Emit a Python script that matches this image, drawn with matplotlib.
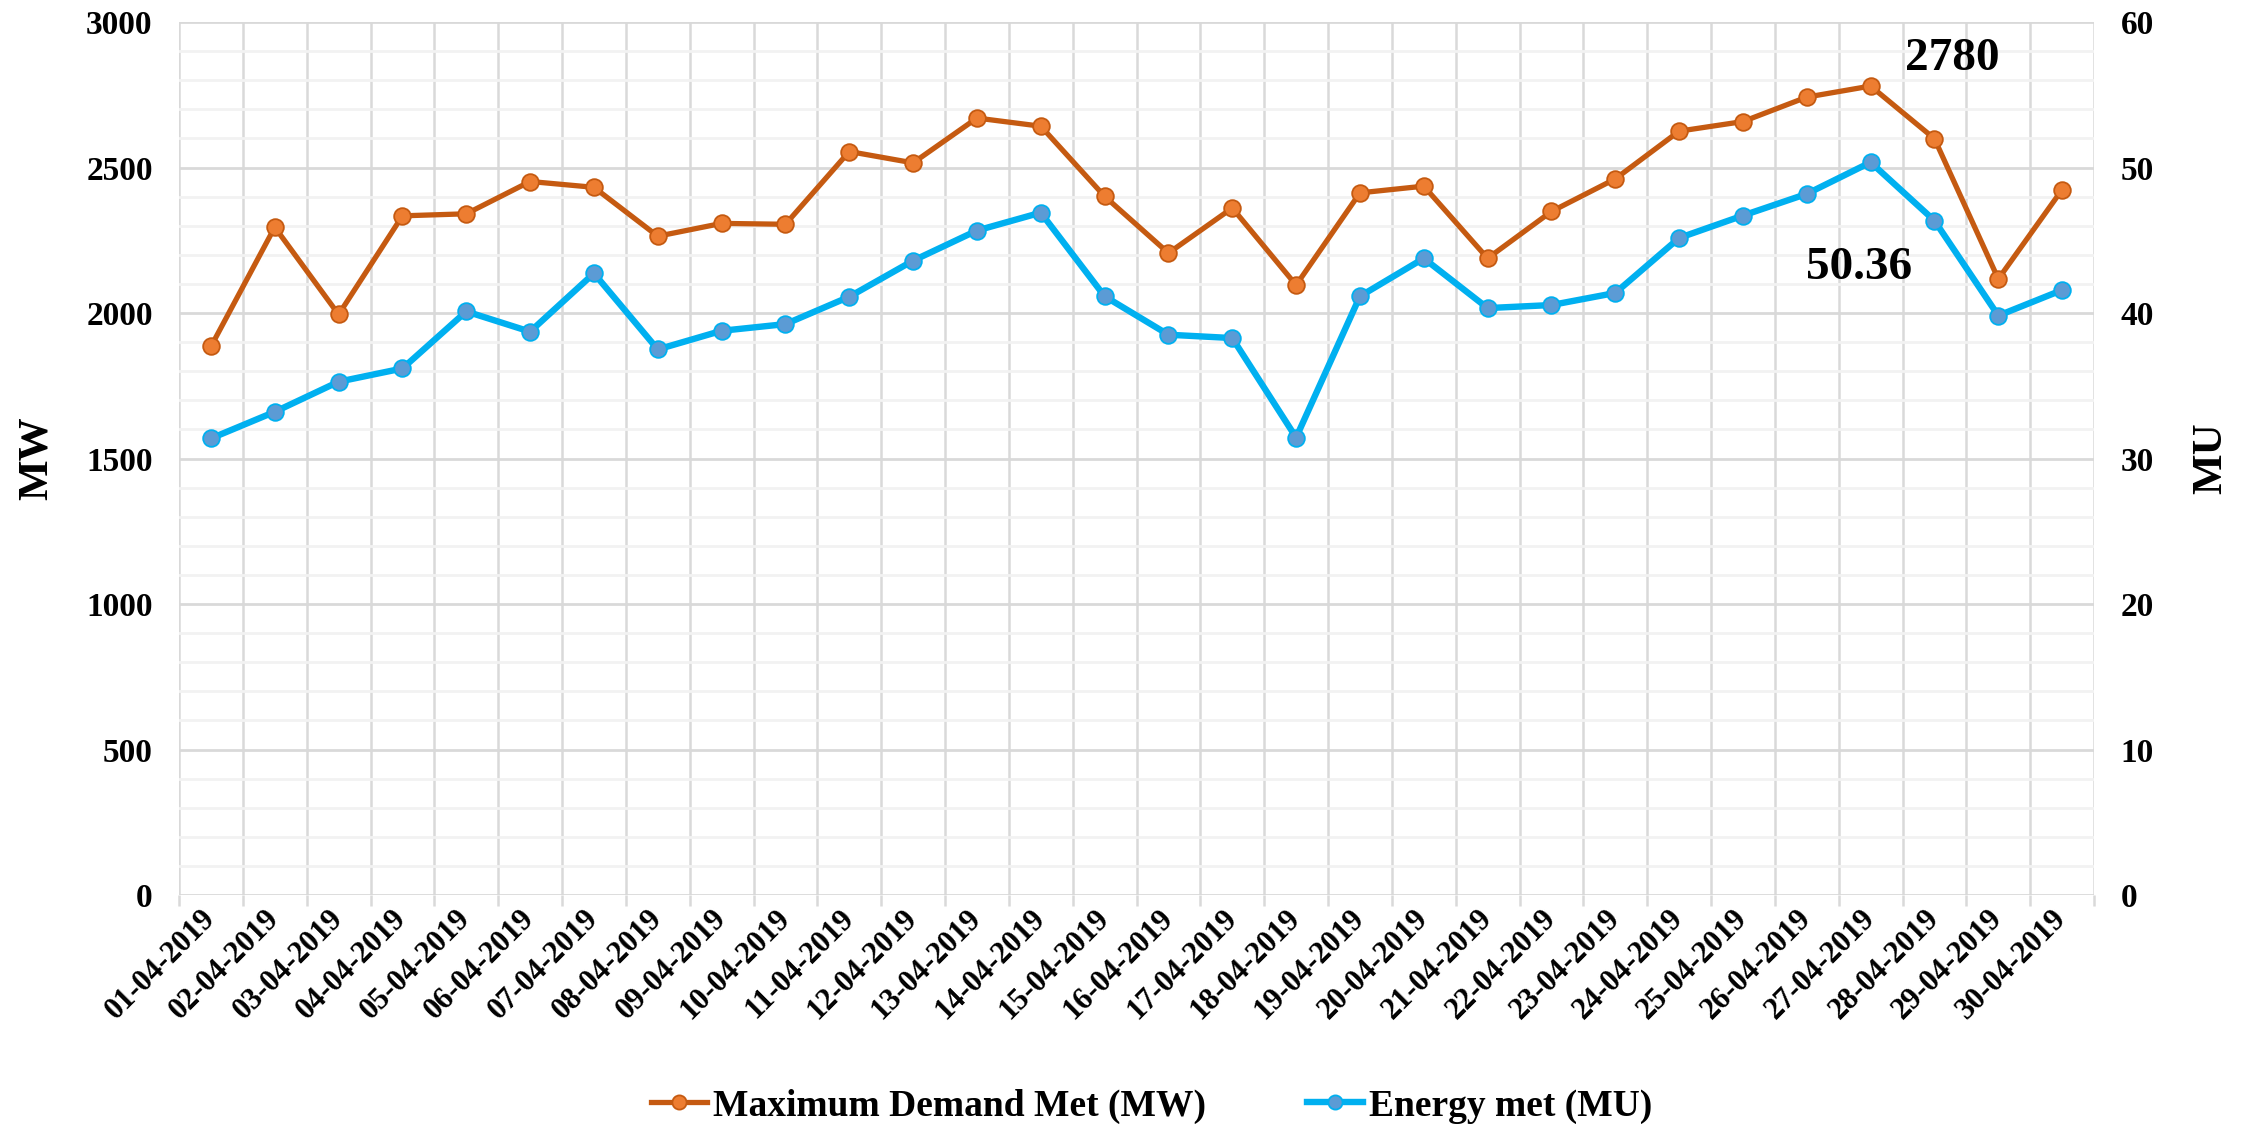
import numpy as np
import matplotlib
matplotlib.use("Agg")
import matplotlib.pyplot as plt
from matplotlib.ticker import MultipleLocator
from matplotlib.transforms import ScaledTranslation

plt.rcParams['font.family'] = ['Liberation Serif', 'DejaVu Serif']
plt.rcParams['font.weight'] = 'bold'

dates = ['%02d-04-2019' % d for d in range(1, 31)]
max_demand = [1885, 2295, 1995, 2334, 2341, 2452, 2432, 2264, 2308, 2305,
              2555, 2516, 2670, 2642, 2401, 2206, 2361, 2096, 2413, 2436,
              2188, 2349, 2461, 2625, 2658, 2742, 2780, 2599, 2117, 2424]
energy_met = [31.38, 33.21, 35.28, 36.19, 40.11, 38.72, 42.73, 37.50, 38.78, 39.24,
              41.12, 43.60, 45.67, 46.90, 41.15, 38.51, 38.28, 31.44, 41.15, 43.76,
              40.34, 40.55, 41.38, 45.16, 46.70, 48.19, 50.36, 46.35, 39.82, 41.58]

x = np.arange(len(dates))

fig = plt.figure(figsize=(22.49, 11.24), dpi=100)
ax = fig.add_axes([0.0796, 0.2037, 0.9311 - 0.0796, 0.9804 - 0.2037])
ax2 = ax.twinx()

l1, = ax.plot(x, max_demand, color='#C55A11', lw=3.8, marker='o', ms=12,
              mfc='#ED7D31', mec='#C55A11', mew=1.3, zorder=3,
              label='Maximum Demand Met (MW)')
l2, = ax2.plot(x, energy_met, color='#00B0F0', lw=4.6, marker='o', ms=12,
               mfc='#5B9BD5', mec='#00B0F0', mew=1.3, zorder=3,
               label='Energy met (MU)')

ax.set_xlim(-0.5, len(dates) - 0.5)
ax.set_ylim(0, 3000)
ax2.set_ylim(0, 60)

ax.yaxis.set_major_locator(MultipleLocator(500))
ax.yaxis.set_minor_locator(MultipleLocator(100))
ax2.yaxis.set_major_locator(MultipleLocator(10))

ax.set_xticks(x)
ax.set_xticks(np.arange(-0.5, len(dates), 1), minor=True)
ax.set_xticklabels(dates, rotation=45, ha='right', va='center',
                   rotation_mode='anchor', fontsize=22, fontweight='bold')
shift = ScaledTranslation(0.24, 0, fig.dpi_scale_trans)
for lab in ax.get_xticklabels():
    lab.set_transform(lab.get_transform() + shift)

ax.yaxis.grid(True, which='major', color='#D9D9D9', lw=2)
ax.yaxis.grid(True, which='minor', color='#F2F2F2', lw=2)
ax.xaxis.grid(True, which='minor', color='#D9D9D9', lw=1.8)
ax.xaxis.grid(False, which='major')
ax.set_axisbelow(True)

ax.tick_params(axis='x', which='major', length=0, pad=14)
ax.tick_params(axis='x', which='minor', length=8, color='#D9D9D9', width=1.8)
ax.tick_params(axis='y', which='both', length=0, labelsize=24, pad=19)
ax2.tick_params(axis='y', which='both', length=0, labelsize=24, pad=19)

for a in (ax, ax2):
    for s in a.spines.values():
        s.set_visible(False)
for lab in ax.get_yticklabels() + ax2.get_yticklabels():
    lab.set_fontweight('bold')

ax.set_ylabel('MW', fontsize=31, fontweight='bold', labelpad=22)
ax2.set_ylabel('MU', fontsize=31, fontweight='bold', labelpad=28)

ax.text(27.28, 2873, '2780', fontsize=34, fontweight='bold', ha='center', va='center')
ax.text(25.82, 2155, '50.36', fontsize=34, fontweight='bold', ha='center', va='center')

fig.legend(handles=[l1, l2], loc='center', bbox_to_anchor=(0.512, 0.016), ncol=2,
           frameon=False, fontsize=27, columnspacing=2.7, handlelength=1.5,
           handletextpad=0.15, markerscale=0.85)

fig.savefig('out.png', dpi=100)
